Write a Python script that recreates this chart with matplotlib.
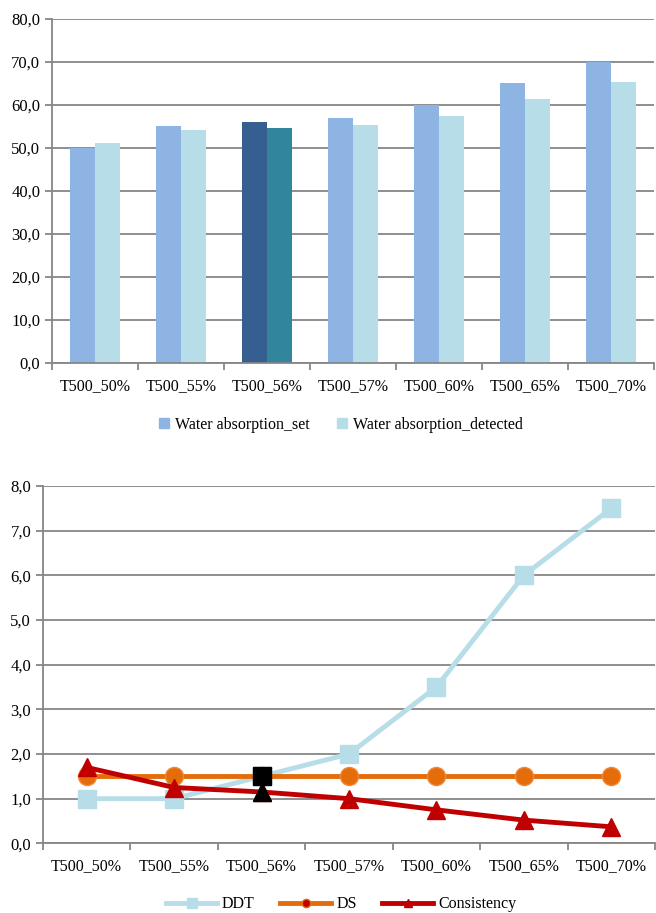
import numpy as np
import matplotlib
matplotlib.use("Agg")
from matplotlib import pyplot as plt
from matplotlib.patches import Patch
from matplotlib.lines import Line2D
from matplotlib.ticker import FuncFormatter, FixedLocator

plt.rcParams['font.family'] = ['Liberation Serif', 'DejaVu Serif']

# Data
categories = ["T500_50%", "T500_55%", "T500_56%", "T500_57%",
              "T500_60%", "T500_65%", "T500_70%"]
absorption_set = [50.0, 55.0, 56.0, 57.0, 60.0, 65.0, 70.0]
absorption_detected = [51.2, 54.1, 54.6, 55.3, 57.5, 61.3, 65.3]
highlight_index = 2

ddt = [1.0, 1.0, 1.5, 2.0, 3.5, 6.0, 7.5]
ds = [1.5, 1.5, 1.5, 1.5, 1.5, 1.5, 1.5]
consistency = [1.7, 1.25, 1.15, 1.0, 0.75, 0.52, 0.37]

# Colours
c_set = "#8EB4E3"
c_det = "#B7DDE8"
c_set_hi = "#355F91"
c_det_hi = "#31859C"
c_ddt = "#B7DDE8"
c_ds = "#E46C0A"
c_cons = "#C00000"
grid_c = "#868686"

comma = FuncFormatter(lambda v, p: ("%.1f" % v).replace(".", ","))


def style_axes(ax, n):
    ax.set_xlim(-0.5, n - 0.5)
    ax.yaxis.grid(True, color=grid_c, linewidth=1.3)
    ax.set_axisbelow(True)
    for s in ["top", "right"]:
        ax.spines[s].set_visible(False)
    for s in ["left", "bottom"]:
        ax.spines[s].set_color(grid_c)
        ax.spines[s].set_linewidth(1.3)
    ax.set_xticks(np.arange(n))
    ax.set_xticklabels(categories)
    ax.xaxis.set_minor_locator(FixedLocator(np.arange(n + 1) - 0.5))
    ax.tick_params(axis="x", which="major", length=0, pad=11, labelsize=11.5)
    ax.tick_params(axis="x", which="minor", length=5, color=grid_c, width=1.3)
    ax.tick_params(axis="y", length=5, color=grid_c, width=1.3, labelsize=12)
    ax.yaxis.set_major_formatter(comma)


fig = plt.figure(figsize=(6.56, 9.13), dpi=100)

# Top: bar chart
ax1 = fig.add_axes([0.0793, 0.6024, 0.9177, 0.3768])
x = np.arange(len(categories))
w = 0.29
cols_set = [c_set_hi if i == highlight_index else c_set for i in x]
cols_det = [c_det_hi if i == highlight_index else c_det for i in x]
ax1.bar(x - w / 2, absorption_set, w, color=cols_set)
ax1.bar(x + w / 2, absorption_detected, w, color=cols_det)
ax1.set_ylim(0, 80)
ax1.set_yticks(np.arange(0, 81, 10))
style_axes(ax1, len(categories))

fig.legend(handles=[Patch(color=c_set, label="Water absorption_set"),
                    Patch(color=c_det, label="Water absorption_detected")],
           loc="center", bbox_to_anchor=(0.52, 0.5345), ncol=2, frameon=False,
           fontsize=11.5, handlelength=0.6, handleheight=0.6, handletextpad=0.4,
           columnspacing=1.7)

# Bottom: line chart
ax2 = fig.add_axes([0.0655, 0.0763, 0.933, 0.3914])
ax2.plot(x, ds, color=c_ds, linewidth=3.5, marker="o", markersize=13,
         markerfacecolor=c_ds, markeredgecolor="#F0883A", zorder=3)
ax2.plot(x, ddt, color=c_ddt, linewidth=3.5, marker="s", markersize=13,
         zorder=2)
ax2.plot(x, consistency, color=c_cons, linewidth=3.5, marker="^",
         markersize=13, zorder=4)
ax2.plot([x[highlight_index]], [ddt[highlight_index]], marker="s",
         markersize=13, color="black", linestyle="none", zorder=5)
ax2.plot([x[highlight_index]], [consistency[highlight_index]], marker="^",
         markersize=13, color="black", linestyle="none", zorder=5)
ax2.set_ylim(0, 8)
ax2.set_yticks(np.arange(0, 8.1, 1))
style_axes(ax2, len(categories))

fig.legend(handles=[Line2D([], [], color=c_ddt, lw=3.5, marker="s", ms=7,
                           label="DDT"),
                    Line2D([], [], color=c_ds, lw=3.5, marker="o", ms=6,
                           markerfacecolor="#C00000", markeredgecolor=c_ds,
                           label="DS"),
                    Line2D([], [], color=c_cons, lw=3.5, marker="^", ms=6,
                           label="Consistency")],
           loc="center", bbox_to_anchor=(0.52, 0.0095), ncol=3, frameon=False,
           fontsize=11.5, handlelength=3.2, handletextpad=0.3,
           columnspacing=1.6)

fig.savefig("out.png", dpi=100)
